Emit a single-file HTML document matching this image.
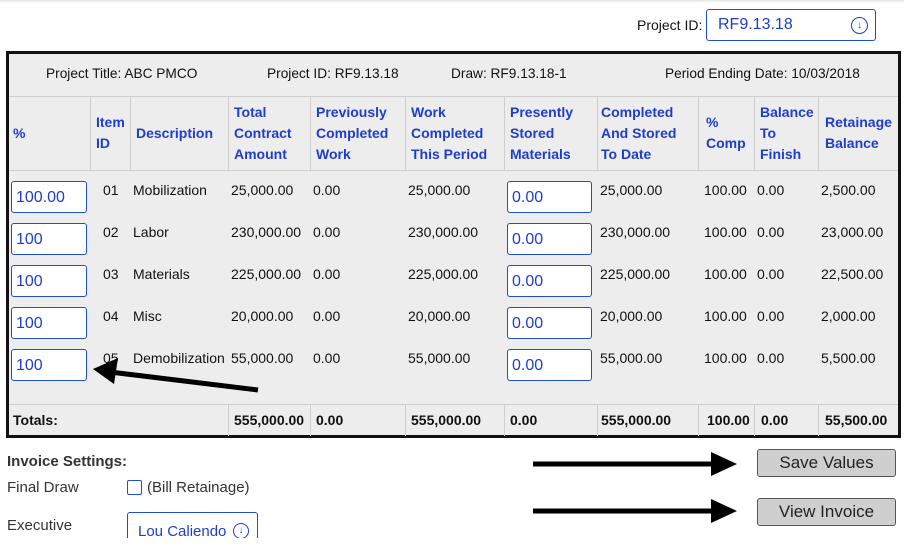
<!DOCTYPE html>
<html><head><meta charset="utf-8"><style>
body{margin:0;width:904px;height:555px;background:#fff;position:relative;overflow:hidden;font-family:"Liberation Sans",Arial,sans-serif;font-size:14px;color:#111}
.a{position:absolute;white-space:nowrap;line-height:21px}
.h{color:#1f3dcc;font-weight:bold;font-size:14px}
.inp{position:absolute;border:1px solid #1f4fcc;border-radius:3px;background:#fff;color:#1f3dcc;font-size:16px;line-height:32px;padding-left:4px;box-sizing:border-box}
.vl{position:absolute;width:1px;background:#cfcfcf;top:96px;height:74px}
.vt{position:absolute;width:1px;background:#cfcfcf;top:404px;height:32px}
.hl{position:absolute;height:1px;background:#cfcfcf;left:9px;width:889px}
.btn{position:absolute;left:757px;width:139px;height:28px;background:#cfcfcf;border:1px solid #555;border-radius:3px;box-sizing:border-box;text-align:center;font-size:17px;line-height:26px;color:#222}
.info{font-size:13.7px;top:63px}
</style></head><body>
<div style="position:absolute;left:0;top:0;width:904px;height:3px;background:linear-gradient(#e4e4e4,#fff)"></div>
<div class="a" style="left:637px;top:15px;font-size:14px">Project ID:</div>
<div style="position:absolute;left:706px;top:9px;width:170px;height:32px;border:1px solid #1f4fcc;border-radius:3px;box-sizing:border-box">
<span style="position:absolute;left:11px;top:6px;color:#1f3dcc;font-size:16px">RF9.13.18</span>
<span style="position:absolute;left:144px;top:7px;width:15px;height:15px;border:1.5px solid #1f3dcc;border-radius:50%;color:#1f3dcc;font-size:10px;line-height:15px;text-align:center">↓</span></div>

<div style="position:absolute;left:6px;top:51px;width:895px;height:387px;border:3px solid #111;box-sizing:border-box;background:#ededed"></div>
<div class="hl" style="top:96px"></div><div class="hl" style="top:170px"></div><div class="hl" style="top:404px"></div>
<div class="vl" style="left:90px"></div><div class="vl" style="left:130px"></div>
<div class="vl" style="left:228px"></div><div class="vl" style="left:310px"></div><div class="vl" style="left:405px"></div><div class="vl" style="left:504px"></div><div class="vl" style="left:597px"></div><div class="vl" style="left:698px"></div><div class="vl" style="left:754px"></div><div class="vl" style="left:818px"></div>
<div class="vt" style="left:228px"></div><div class="vt" style="left:310px"></div><div class="vt" style="left:405px"></div><div class="vt" style="left:504px"></div><div class="vt" style="left:597px"></div><div class="vt" style="left:698px"></div><div class="vt" style="left:754px"></div><div class="vt" style="left:818px"></div>

<div class="a info" style="left:46px">Project Title: ABC PMCO</div>
<div class="a info" style="left:267px">Project ID: RF9.13.18</div>
<div class="a info" style="left:451px">Draw: RF9.13.18-1</div>
<div class="a info" style="left:665px">Period Ending Date: 10/03/2018</div>

<div class="a h" style="left:13px;top:123px">%</div>
<div class="a h" style="left:96px;top:112px">Item<br>ID</div>
<div class="a h" style="left:136px;top:123px">Description</div>
<div class="a h" style="left:234px;top:102px">Total<br>Contract<br>Amount</div>
<div class="a h" style="left:316px;top:102px">Previously<br>Completed<br>Work</div>
<div class="a h" style="left:411px;top:102px">Work<br>Completed<br>This Period</div>
<div class="a h" style="left:510px;top:102px">Presently<br>Stored<br>Materials</div>
<div class="a h" style="left:601px;top:102px">Completed<br>And Stored<br>To Date</div>
<div class="a h" style="left:706px;top:112px">%<br>Comp</div>
<div class="a h" style="left:760px;top:102px">Balance<br>To<br>Finish</div>
<div class="a h" style="left:825px;top:112px">Retainage<br>Balance</div>

<div id="rows"></div>

<div class="a" style="left:13px;top:410px;font-weight:bold">Totals:</div>
<div class="a" style="left:234px;top:410px;font-weight:bold">555,000.00</div>
<div class="a" style="left:316px;top:410px;font-weight:bold">0.00</div>
<div class="a" style="left:411px;top:410px;font-weight:bold">555,000.00</div>
<div class="a" style="left:510px;top:410px;font-weight:bold">0.00</div>
<div class="a" style="left:601px;top:410px;font-weight:bold">555,000.00</div>
<div class="a" style="left:707px;top:410px;font-weight:bold">100.00</div>
<div class="a" style="left:761px;top:410px;font-weight:bold">0.00</div>
<div class="a" style="left:825px;top:410px;font-weight:bold">55,500.00</div>

<div class="a" style="left:7px;top:451px;font-weight:bold;font-size:15px;color:#333">Invoice Settings:</div>
<div class="a" style="left:7px;top:477px;font-size:15px;color:#333">Final Draw</div>
<div style="position:absolute;left:127px;top:480px;width:15px;height:15px;border:1px solid #1f4fcc;border-radius:2px;box-sizing:border-box"></div>
<div class="a" style="left:147px;top:477px;font-size:15px;color:#333">(Bill Retainage)</div>
<div class="a" style="left:7px;top:515px;font-size:15px;color:#333">Executive</div>
<div style="position:absolute;left:127px;top:512px;width:131px;height:40px;border:1px solid #1f4fcc;border-radius:3px;box-sizing:border-box">
<span style="position:absolute;left:10px;top:10px;color:#1f3dcc;font-size:15px">Lou Caliendo</span>
<span style="position:absolute;left:105px;top:10px;width:14px;height:14px;border:1.5px solid #1f3dcc;border-radius:50%;color:#1f3dcc;font-size:10px;line-height:14px;text-align:center">↓</span></div>
<div style="position:absolute;left:0;top:538px;width:904px;height:17px;background:#fff"></div>

<div class="btn" style="top:449px">Save Values</div>
<div class="btn" style="top:498px">View Invoice</div>

<svg width="904" height="555" style="position:absolute;left:0;top:0;pointer-events:none">
<line x1="533" y1="464" x2="715" y2="464" stroke="#000" stroke-width="5"/>
<polygon points="711,452 737,464 711,476" fill="#000"/>
<line x1="533" y1="511" x2="715" y2="511" stroke="#000" stroke-width="5"/>
<polygon points="711,499 737,511 711,523" fill="#000"/>
<line x1="258" y1="390" x2="110" y2="372" stroke="#000" stroke-width="5"/>
<polygon points="93,369 118,358 114,384" fill="#000"/>
</svg>

<script>
const itemIds=["01","02","03","04","05"];
const descriptions=["Mobilization","Labor","Materials","Misc","Demobilization"];
const percents=["100.00","100","100","100","100"];
const contract=["25,000.00","230,000.00","225,000.00","20,000.00","55,000.00"];
const previous=["0.00","0.00","0.00","0.00","0.00"];
const work=["25,000.00","230,000.00","225,000.00","20,000.00","55,000.00"];
const stored=["0.00","0.00","0.00","0.00","0.00"];
const completed=["25,000.00","230,000.00","225,000.00","20,000.00","55,000.00"];
const pctComp=["100.00","100.00","100.00","100.00","100.00"];
const balance=["0.00","0.00","0.00","0.00","0.00"];
const retainage=["2,500.00","23,000.00","22,500.00","2,000.00","5,500.00"];
const root=document.getElementById('rows');
function txt(x,y,t,name){const d=document.createElement('div');d.className='a';d.style.left=x+'px';d.style.top=y+'px';d.textContent=t;


root.appendChild(d);}
function inp(x,y,w,t,name){const d=document.createElement('div');d.className='inp';d.style.left=x+'px';d.style.top=y+'px';d.style.width=w+'px';d.style.height='32px';d.textContent=t;


root.appendChild(d);}
itemIds.forEach((id,i)=>{
 const y=180+i*42, ty=y;
 inp(11,y+1,76,percents[i],'percent-input');
 txt(103,ty,id,'item-id');
 txt(133,ty,descriptions[i],'description');
 txt(231,ty,contract[i],'total-contract-amount');
 txt(313,ty,previous[i],'previously-completed');
 txt(408,ty,work[i],'work-completed');
 inp(507,y+1,85,stored[i],'stored-materials-input');
 txt(600,ty,completed[i],'completed-stored');
 txt(704,ty,pctComp[i],'percent-comp');
 txt(757,ty,balance[i],'balance-to-finish');
 txt(821,ty,retainage[i],'retainage-balance');
});
</script>
</body></html>
